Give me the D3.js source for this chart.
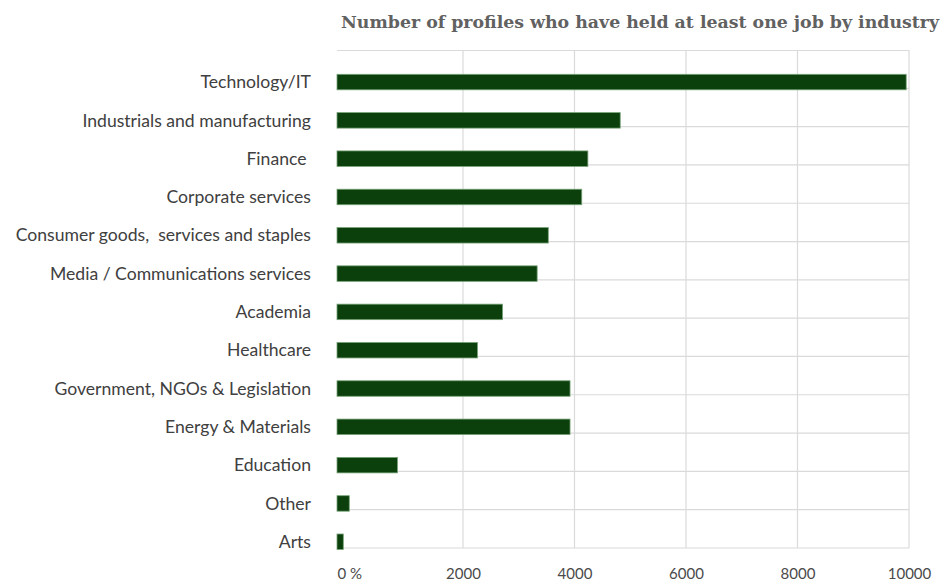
<!DOCTYPE html>
<html>
<head>
<meta charset="utf-8">
<script src="https://cdn.jsdelivr.net/npm/d3@7"></script>
<style>
  html, body { margin: 0; padding: 0; background: #ffffff; }
  svg { display: block; }
  .cat { white-space: pre; }
</style>
</head>
<body>
<svg id="chart" width="943" height="581"></svg>
<script>
// Industries, top to bottom
const categories = [
  "Technology/IT",
  "Industrials and manufacturing",
  "Finance ",
  "Corporate services",
  "Consumer goods,  services and staples",
  "Media / Communications services",
  "Academia",
  "Healthcare",
  "Government, NGOs & Legislation",
  "Energy & Materials",
  "Education",
  "Other",
  "Arts"
];

// Number of profiles per industry
const profiles = [9950, 4820, 4240, 4130, 3530, 3330, 2710, 2260, 3920, 3920, 960, 195, 100];

// Axis ticks and their printed labels
const tickValues = [0, 2000, 4000, 6000, 8000, 10000];
const tickLabels = ["0 %", "2000", "4000", "6000", "8000", "10000"];

const titleText = "Number of profiles who have held at least one job by industry";

const svg = d3.select("#chart");

const plot = { left: 337, right: 909, top: 50, bottom: 548 };

// x: the first interval of the axis is drawn a little wider than the rest
const x = d3.scaleLinear()
  .domain([0, 2000, 10000])
  .range([plot.left, 463, plot.right]);

const y = d3.scaleBand()
  .domain(categories)
  .range([plot.top, plot.bottom])
  .padding(0);

const barHeight = 15.5;
const gridColor = "#dadada";

// Title
svg.append("text")
  .attr("x", 341)
  .attr("y", 28)
  .attr("textLength", 598)
  .attr("lengthAdjust", "spacingAndGlyphs")
  .attr("font-family", "'DejaVu Serif', serif")
  .attr("font-weight", "bold")
  .attr("font-size", 16)
  .attr("fill", "#616161")
  .text(titleText);

// Grid
const grid = svg.append("g").attr("class", "grid");

grid.append("line")
  .attr("x1", plot.left).attr("x2", plot.right)
  .attr("y1", plot.top + 0.5).attr("y2", plot.top + 0.5)
  .attr("stroke", gridColor).attr("stroke-width", 1.2);

grid.selectAll("line.h")
  .data(categories)
  .join("line")
  .attr("class", "h")
  .attr("x1", plot.left).attr("x2", plot.right)
  .attr("y1", d => y(d) + y.bandwidth())
  .attr("y2", d => y(d) + y.bandwidth())
  .attr("stroke", gridColor).attr("stroke-width", 1.2);

grid.selectAll("line.v")
  .data(tickValues.filter(v => v > 0))
  .join("line")
  .attr("class", "v")
  .attr("x1", d => x(d)).attr("x2", d => x(d))
  .attr("y1", plot.top).attr("y2", plot.bottom)
  .attr("stroke", gridColor).attr("stroke-width", 1.2);

// Bars, sitting on the lower edge of each band
svg.append("g")
  .selectAll("rect")
  .data(categories.map((c, i) => ({ c, v: profiles[i] })))
  .join("rect")
  .attr("x", x(0))
  .attr("y", d => y(d.c) + y.bandwidth() - barHeight + 1.5)
  .attr("width", d => x(d.v) - x(0))
  .attr("height", barHeight)
  .attr("fill", "#0b400c")
  .attr("stroke", "#77a277")
  .attr("stroke-width", 0.8);

// Category labels
svg.append("g")
  .selectAll("text")
  .data(categories)
  .join("text")
  .attr("class", "cat")
  .attr("x", 311)
  .attr("y", d => y(d) + y.bandwidth() - barHeight / 2 + 1.5)
  .attr("dy", "0.35em")
  .attr("text-anchor", "end")
  .attr("font-family", "Lato, 'Open Sans', sans-serif")
  .attr("font-size", 17.6)
  .attr("fill", "#404040")
  .text(d => d);

// x axis labels (no axis line or tick marks)
const xAxis = d3.axisBottom(x)
  .tickValues(tickValues)
  .tickFormat((d, i) => tickLabels[i])
  .tickSize(0)
  .tickPadding(0);

const axisG = svg.append("g")
  .attr("transform", "translate(0,568)")
  .call(xAxis);

axisG.select(".domain").remove();
axisG.selectAll("text")
  .attr("font-family", "Lato, 'Open Sans', sans-serif")
  .attr("font-size", 15)
  .attr("fill", "#4a4a4a")
  .attr("text-anchor", d => d === 0 ? "start" : "middle");
</script>
</body>
</html>
